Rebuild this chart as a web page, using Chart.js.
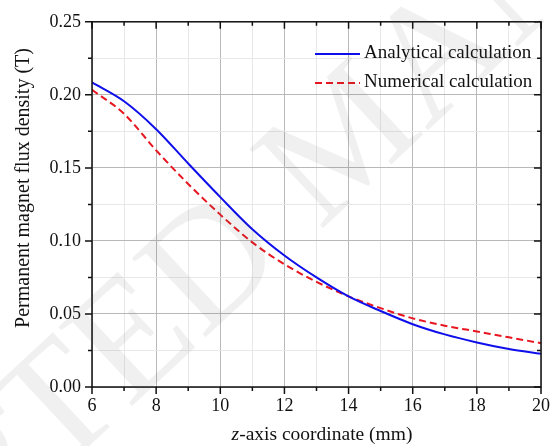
<!DOCTYPE html>
<html>
<head>
<meta charset="utf-8">
<script src="https://cdn.jsdelivr.net/npm/chart.js@4"></script>
<style>
  body { margin: 0; background: #fff; }
  canvas { display: block; }
</style>
</head>
<body>
<canvas id="myChart" width="558" height="446"></canvas>
<script>
const zValues = [6, 7, 8, 9, 10, 11, 12, 13, 14, 15, 16, 17, 18, 19, 20];
const analytical = [0.2085, 0.1956, 0.1765, 0.153, 0.130, 0.108, 0.090, 0.075, 0.062, 0.052, 0.043, 0.036, 0.0305, 0.026, 0.0227];
const numerical = [0.2035, 0.187, 0.162, 0.139, 0.118, 0.099, 0.084, 0.072, 0.062, 0.054, 0.047, 0.042, 0.038, 0.034, 0.030];
const xTickLabels = [6, 8, 10, 12, 14, 16, 18, 20];
const yTickLabels = ["0.00", "0.05", "0.10", "0.15", "0.20", "0.25"];
const seriesNames = ["Analytical calculation", "Numerical calculation"];

const serif = "'Liberation Serif', 'Times New Roman', serif";
const blue = "rgb(15, 15, 235)";
const red = "rgb(232, 22, 32)";

const frame = {
  id: "frame",
  afterDraw(chart) {
    const ctx = chart.ctx;
    const a = chart.chartArea;
    const xs = chart.scales.x, ys = chart.scales.y;
    ctx.save();
    ctx.strokeStyle = "#111";
    ctx.lineWidth = 1.5;
    ctx.strokeRect(a.left, a.top, a.right - a.left, a.bottom - a.top);
    // ticks: outward on bottom/left, inward on top/right
    for (let v = 6; v <= 20; v++) {
      const px = xs.getPixelForValue(v);
      const len = v % 2 === 0 ? 7 : 4;
      ctx.beginPath();
      ctx.moveTo(px, a.bottom); ctx.lineTo(px, a.bottom + len);
      ctx.moveTo(px, a.top); ctx.lineTo(px, a.top + len);
      ctx.stroke();
    }
    for (let i = 0; i <= 10; i++) {
      const py = ys.getPixelForValue(i * 0.025);
      const len = i % 2 === 0 ? 7 : 4;
      ctx.beginPath();
      ctx.moveTo(a.left - len, py); ctx.lineTo(a.left, py);
      ctx.moveTo(a.right - len, py); ctx.lineTo(a.right, py);
      ctx.stroke();
    }

    // axis titles
    ctx.fillStyle = "#111";
    ctx.textBaseline = "middle";
    ctx.font = "20px " + serif;
    ctx.save();
    ctx.translate(24, 188);
    ctx.rotate(-Math.PI / 2);
    ctx.textAlign = "center";
    ctx.fillText("Permanent magnet flux density (T)", 0, 0);
    ctx.restore();

    const rest = "-axis coordinate (mm)";
    ctx.font = "italic 19.5px " + serif;
    const wz = ctx.measureText("z").width;
    ctx.font = "19.5px " + serif;
    const wr = ctx.measureText(rest).width;
    const x0 = 322 - (wz + wr) / 2;
    ctx.textAlign = "left";
    ctx.font = "italic 19.5px " + serif;
    ctx.fillText("z", x0, 435);
    ctx.font = "19.5px " + serif;
    ctx.fillText(rest, x0 + wz, 435);

    // legend
    ctx.font = "19px " + serif;
    const items = [
      { name: seriesNames[0], color: blue, dash: [], y: 54 },
      { name: seriesNames[1], color: red, dash: [7, 4], y: 83 },
    ];
    items.forEach(it => {
      ctx.strokeStyle = it.color;
      ctx.lineWidth = 2;
      ctx.setLineDash(it.dash);
      ctx.beginPath();
      ctx.moveTo(315, it.y); ctx.lineTo(360, it.y);
      ctx.stroke();
      ctx.setLineDash([]);
      ctx.fillStyle = "#111";
      ctx.fillText(it.name, 364, it.y - 1);
    });

    // watermark
    ctx.font = "165px " + serif;
    const pre = ctx.measureText("ACCEP").width;
    const wt = ctx.measureText("T").width;
    ctx.translate(62, 412);
    ctx.rotate(-43 * Math.PI / 180);
    ctx.textAlign = "left";
    ctx.fillStyle = "rgba(90, 90, 90, 0.09)";
    ctx.fillText("ACCEPTED MANUSCRIPT", -pre - wt / 2, 0);
    ctx.restore();
  }
};

const data = {
  datasets: [
    {
      label: seriesNames[0],
      data: zValues.map((z, i) => ({ x: z, y: analytical[i] })),
      borderColor: blue,
      borderWidth: 2,
      pointRadius: 0,
      cubicInterpolationMode: "monotone",
    },
    {
      label: seriesNames[1],
      data: zValues.map((z, i) => ({ x: z, y: numerical[i] })),
      borderColor: red,
      borderWidth: 2,
      borderDash: [7, 4],
      pointRadius: 0,
      cubicInterpolationMode: "monotone",
    },
  ],
};

const config = {
  type: "line",
  data: data,
  options: {
    responsive: false,
    animation: false,
    devicePixelRatio: 1,
    layout: { padding: { top: 16, right: 8, left: 0, bottom: 0 } },
    plugins: { legend: { display: false }, tooltip: { enabled: false } },
    scales: {
      x: {
        type: "linear",
        min: 6,
        max: 20,
        afterFit: s => { s.height = 59; },
        border: { display: false },
        grid: {
          drawTicks: false,
          color: c => (c.tick.value % 2 === 0 ? "#b8b8b8" : "#e8e8e8"),
        },
        ticks: {
          stepSize: 1,
          autoSkip: false,
          maxRotation: 0,
          padding: 8,
          color: "#111",
          font: { family: serif, size: 18 },
          callback: v => (xTickLabels.includes(v) ? String(v) : ""),
        },
      },
      y: {
        min: 0,
        max: 0.25,
        afterFit: s => { s.width = 92; },
        border: { display: false },
        grid: {
          drawTicks: false,
          color: c => (Math.round(c.tick.value * 1000) % 50 === 0 ? "#b8b8b8" : "#e8e8e8"),
        },
        ticks: {
          stepSize: 0.025,
          autoSkip: false,
          padding: 11,
          color: "#111",
          font: { family: serif, size: 18 },
          callback: v => {
            const s = v.toFixed(2);
            return Math.round(v * 1000) % 50 === 0 && yTickLabels.includes(s) ? s : "";
          },
        },
      },
    },
  },
  plugins: [frame],
};

Promise.all([
  document.fonts.load("18px 'Liberation Serif'"),
  document.fonts.load("italic 18px 'Liberation Serif'"),
]).catch(() => {}).then(() => {
  let myChart = new Chart(document.getElementById("myChart"), config);
});
</script>
</body>
</html>
